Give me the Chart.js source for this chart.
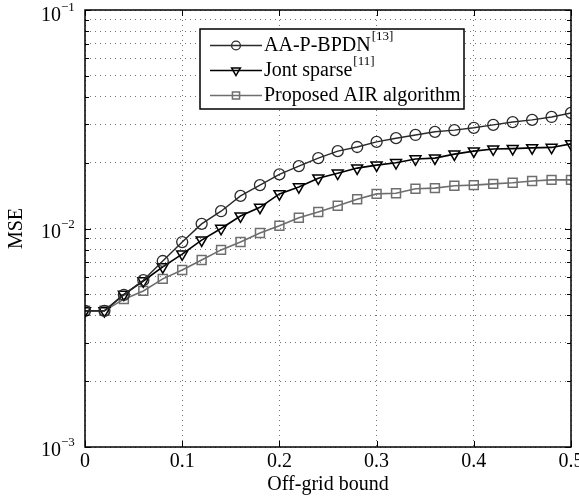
<!DOCTYPE html>
<html>
<head>
<meta charset="utf-8">
<script src="https://cdn.jsdelivr.net/npm/chart.js@4"></script>
<style>
body { margin: 0; background: #fff; }
#wrap { width: 579px; height: 497px; }
</style>
</head>
<body>
<div id="wrap"><canvas id="mseChart" width="579" height="497"></canvas></div>
<script>
// Valores (MSE em função do off-grid bound)
const xValues = [0, 0.02, 0.04, 0.06, 0.08, 0.10, 0.12, 0.14, 0.16, 0.18, 0.20, 0.22, 0.24,
                 0.26, 0.28, 0.30, 0.32, 0.34, 0.36, 0.38, 0.40, 0.42, 0.44, 0.46, 0.48, 0.50];

const aaBpdn = [0.0042, 0.0042, 0.00497, 0.0058, 0.0071, 0.00867, 0.0105, 0.0120, 0.0141, 0.0158,
                0.0177, 0.0193, 0.0210, 0.0226, 0.0236, 0.0249, 0.0259, 0.0268, 0.0277, 0.0282,
                0.0289, 0.0298, 0.0307, 0.0314, 0.0324, 0.0338];

const jontSparse = [0.0042, 0.0042, 0.0050, 0.00575, 0.00667, 0.00764, 0.00885, 0.0100, 0.0114, 0.0125,
                    0.0144, 0.0155, 0.0170, 0.0179, 0.0189, 0.0195, 0.0200, 0.0208, 0.0210, 0.0219,
                    0.0226, 0.0231, 0.0232, 0.0234, 0.0235, 0.0244];

const proposedAir = [0.0042, 0.0042, 0.00475, 0.00518, 0.00588, 0.00646, 0.00718, 0.00798, 0.00867, 0.00953,
                     0.0103, 0.0112, 0.0119, 0.0127, 0.0136, 0.0144, 0.0145, 0.0152, 0.0153, 0.0157,
                     0.0158, 0.0160, 0.0162, 0.0165, 0.0167, 0.0167];

// Rótulos
const legendLabels = ['AA-P-BPDN', 'Jont sparse', 'Proposed AIR algorithm'];
const legendRefs = ['[13]', '[11]', ''];
const xTickValues = [0, 0.1, 0.2, 0.3, 0.4, 0.5];
const yTickExps = [-3, -2, -1];
const yMinorSteps = [1, 2, 3, 4, 5, 6, 7, 8, 9];

const serif = '"Liberation Serif", "Times New Roman", serif';

// Pontos {x, y} para cada série
const toPoints = vals => vals.map((v, i) => ({ x: xValues[i], y: v }));

// Plugin para desenhar a moldura, ticks internos, rótulos 10^n e a legenda
const matlabLook = {
  id: 'matlabLook',
  afterDraw(chart) {
    const ctx = chart.ctx;
    const area = chart.chartArea;
    const xs = chart.scales.x;
    const ys = chart.scales.y;
    ctx.save();

    // ticks internos
    ctx.strokeStyle = '#000';
    ctx.lineWidth = 1;
    ctx.beginPath();
    ys.ticks.forEach(t => {
      const py = Math.round(ys.getPixelForValue(t.value)) + 0.5;
      const major = Math.abs(Math.log10(t.value) - Math.round(Math.log10(t.value))) < 1e-9;
      const len = major ? 6 : 4;
      ctx.moveTo(area.left, py); ctx.lineTo(area.left + len, py);
      ctx.moveTo(area.right, py); ctx.lineTo(area.right - len, py);
    });
    xs.ticks.forEach(t => {
      const px = Math.round(xs.getPixelForValue(t.value)) + 0.5;
      ctx.moveTo(px, area.bottom); ctx.lineTo(px, area.bottom - 6);
      ctx.moveTo(px, area.top); ctx.lineTo(px, area.top + 6);
    });
    ctx.stroke();

    // moldura
    ctx.lineWidth = 1.5;
    ctx.strokeRect(area.left, area.top, area.right - area.left, area.bottom - area.top);

    // rótulos do eixo y com expoente
    ctx.fillStyle = '#000';
    yTickExps.forEach(e => {
      const py = ys.getPixelForValue(Math.pow(10, e));
      const ly = Math.max(py + 4, area.top + 6);
      ctx.font = '20px ' + serif;
      ctx.textAlign = 'right';
      ctx.textBaseline = 'middle';
      ctx.fillText('10', area.left - 24, ly);
      ctx.font = '13px ' + serif;
      ctx.textAlign = 'left';
      ctx.fillText('\u2212' + Math.abs(e), area.left - 24, ly - 8);
    });

    // legenda
    const boxX = area.left + 115, boxY = area.top + 19, boxW = 264, boxH = 80;
    ctx.fillStyle = '#fff';
    ctx.fillRect(boxX, boxY, boxW, boxH);
    ctx.strokeStyle = '#000';
    ctx.lineWidth = 1.5;
    ctx.strokeRect(boxX, boxY, boxW, boxH);

    chart.data.datasets.forEach((ds, i) => {
      const ry = boxY + 16.5 + i * 25;
      ctx.strokeStyle = ds.borderColor;
      ctx.lineWidth = ds.borderWidth;
      ctx.beginPath();
      ctx.moveTo(boxX + 10, ry);
      ctx.lineTo(boxX + 62, ry);
      ctx.stroke();
      ctx.fillStyle = 'rgba(0,0,0,0)';
      ctx.lineWidth = ds.pointBorderWidth;
      Chart.helpers.drawPoint(ctx, {
        pointStyle: ds.pointStyle,
        rotation: ds.pointRotation || 0,
        radius: ds.pointRadius * 0.8,
        borderWidth: ds.pointBorderWidth
      }, boxX + 36, ry);

      ctx.fillStyle = '#000';
      ctx.font = '20px ' + serif;
      ctx.textAlign = 'left';
      ctx.textBaseline = 'middle';
      ctx.fillText(legendLabels[i], boxX + 64, ry);
      if (legendRefs[i]) {
        const w = ctx.measureText(legendLabels[i]).width;
        ctx.font = '13px ' + serif;
        ctx.fillText(legendRefs[i], boxX + 64 + w + 1, ry - 9);
      }
    });

    ctx.restore();
  }
};

const gridStyle = {
  color: 'rgba(0, 0, 0, 0.55)',
  lineWidth: 1,
  drawTicks: false
};

new Chart(document.getElementById('mseChart'), {
  type: 'line',
  data: {
    datasets: [
      {
        label: legendLabels[0],
        data: toPoints(aaBpdn),
        borderColor: '#2a2a2a',
        borderWidth: 1.4,
        pointStyle: 'circle',
        pointRadius: 5.5,
        pointBorderWidth: 1.3,
        pointBackgroundColor: 'rgba(0,0,0,0)',
        pointBorderColor: '#2a2a2a'
      },
      {
        label: legendLabels[1],
        data: toPoints(jontSparse),
        borderColor: '#000',
        borderWidth: 1.6,
        pointStyle: 'triangle',
        pointRotation: 180,
        pointRadius: 6.3,
        pointBorderWidth: 1.5,
        pointBackgroundColor: 'rgba(0,0,0,0)',
        pointBorderColor: '#000'
      },
      {
        label: legendLabels[2],
        data: toPoints(proposedAir),
        borderColor: '#6e6e6e',
        borderWidth: 1.6,
        pointStyle: 'rect',
        pointRadius: 6.3,
        pointBorderWidth: 1.5,
        pointBackgroundColor: 'rgba(0,0,0,0)',
        pointBorderColor: '#6e6e6e'
      }
    ]
  },
  options: {
    responsive: false,
    animation: false,
    layout: { padding: { top: 10, right: 8, left: 0, bottom: 0 } },
    elements: { line: { tension: 0 } },
    plugins: {
      legend: { display: false },
      tooltip: { enabled: false }
    },
    scales: {
      x: {
        type: 'linear',
        min: 0,
        max: 0.5,
        afterBuildTicks: s => { s.ticks = xTickValues.map(v => ({ value: v })); },
        afterFit: s => { s.height = 50; s.paddingLeft = 0; s.paddingRight = 0; },
        grid: gridStyle,
        border: { display: false, dash: [1, 4] },
        ticks: {
          color: '#000',
          padding: 3,
          font: { family: serif, size: 20 },
          callback: v => String(Math.round(v * 10) / 10)
        },
        title: {
          display: true,
          text: 'Off-grid bound',
          color: '#000',
          font: { family: serif, size: 20 },
          padding: { top: 0, bottom: 0 }
        }
      },
      y: {
        type: 'logarithmic',
        min: 1e-3,
        max: 1e-1,
        afterBuildTicks: s => {
          const t = [];
          yTickExps.forEach(e => {
            if (e === yTickExps[yTickExps.length - 1]) {
              t.push({ value: Math.pow(10, e) });
            } else {
              yMinorSteps.forEach(m => t.push({ value: m * Math.pow(10, e) }));
            }
          });
          s.ticks = t;
        },
        afterFit: s => { s.width = 85; s.paddingTop = 0; s.paddingBottom = 0; },
        grid: gridStyle,
        border: { display: false, dash: [1, 4] },
        ticks: { display: false },
        title: {
          display: true,
          text: 'MSE',
          color: '#000',
          font: { family: serif, size: 20 },
          padding: { top: 5, bottom: 0 }
        }
      }
    }
  },
  plugins: [matlabLook]
});
</script>
</body>
</html>
